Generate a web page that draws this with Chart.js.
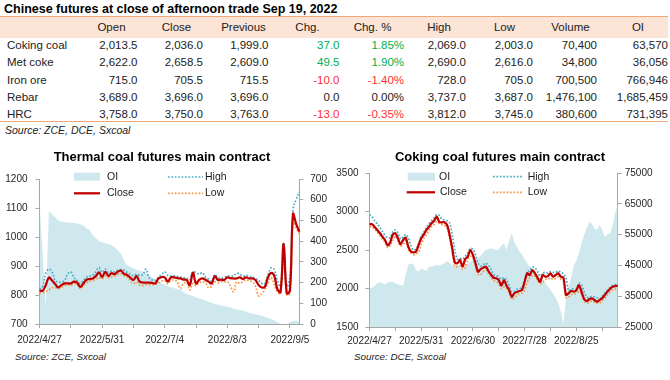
<!DOCTYPE html>
<html><head><meta charset="utf-8">
<script src="https://cdn.jsdelivr.net/npm/chart.js@4.4.0/dist/chart.umd.min.js"></script>
<style>
html,body{margin:0;padding:0;background:#fff;}
#wrap{position:relative;width:670px;height:380px;overflow:hidden;background:#fff;font-family:'Liberation Sans',Arial,sans-serif;color:#222;}
.t{position:absolute;white-space:nowrap;line-height:14px;height:14px;font-size:11.5px;}
canvas{position:absolute;}
</style></head>
<body>
<div id="wrap">
  <div id="band" style="position:absolute;left:0;top:16px;width:668px;height:21px;background:#FCE4D6;border-top:1.5px solid #F2A778;"></div>
  <div style="position:absolute;left:0;top:120.5px;width:668px;height:0;border-top:1.2px solid #F2A778;"></div>
  <div class="t" style="left:4px;top:2px;font-weight:bold;font-size:12.5px;color:#000;">Chinese futures at close of afternoon trade Sep 19, 2022</div>
  <div class="t" style="left:5px;top:123px;font-style:italic;font-size:10.5px;">Source: ZCE, DCE, Sxcoal</div>
  <canvas id="c1" width="335" height="210" style="left:0;top:140px;"></canvas>
  <canvas id="c2" width="335" height="210" style="left:335px;top:140px;"></canvas>
  <div class="t" style="left:42px;width:240px;text-align:center;top:150px;font-weight:bold;font-size:13px;color:#000;">Thermal coal futures main contract</div>
  <div class="t" style="left:380px;width:240px;text-align:center;top:150px;font-weight:bold;font-size:13px;color:#000;">Coking coal futures main contract</div>
  <div class="t" style="left:15px;top:350px;font-style:italic;font-size:9.8px;">Source: ZCE, Sxcoal</div>
  <div class="t" style="left:354px;top:350px;font-style:italic;font-size:9.8px;">Source: DCE, Sxcoal</div>
</div>
<script>
// ---------- table data ----------
const tblHeaders = ["Open","Close","Previous","Chg.","Chg. %","High","Low","Volume","OI"];
const tblNames = ["Coking coal","Met coke","Iron ore","Rebar","HRC"];
const tblOpen = [2013.5, 2622.0, 715.0, 3689.0, 3758.0];
const tblClose = [2036.0, 2658.5, 705.5, 3696.0, 3750.0];
const tblPrev = [1999.0, 2609.0, 715.5, 3696.0, 3763.0];
const tblChg = [37.0, 49.5, -10.0, 0.0, -13.0];
const tblChgPct = [1.85, 1.90, -1.40, 0.00, -0.35];
const tblHigh = [2069.0, 2690.0, 728.0, 3737.0, 3812.0];
const tblLow = [2003.0, 2616.0, 705.0, 3687.0, 3745.0];
const tblVolume = [70400, 34800, 700500, 1476100, 380600];
const tblOI = [63570, 36056, 766946, 1685459, 731395];

// ---------- thermal coal chart data ----------
const thermalDates = ["2022/4/27","2022/4/28","2022/4/29","2022/5/5","2022/5/6","2022/5/9","2022/5/10","2022/5/11","2022/5/12","2022/5/13",
"2022/5/16","2022/5/17","2022/5/18","2022/5/19","2022/5/20","2022/5/23","2022/5/24","2022/5/25","2022/5/26","2022/5/27",
"2022/5/31","2022/6/1","2022/6/2","2022/6/6","2022/6/8","2022/6/9","2022/6/10","2022/6/13","2022/6/15","2022/6/16",
"2022/6/17","2022/6/20","2022/6/22","2022/6/23","2022/6/24","2022/6/27","2022/6/28","2022/6/29","2022/6/30","2022/7/1",
"2022/7/4","2022/7/5","2022/7/6","2022/7/7","2022/7/8","2022/7/11","2022/7/12","2022/7/13","2022/7/14","2022/7/15",
"2022/7/18","2022/7/19","2022/7/20","2022/7/21","2022/7/22","2022/7/25","2022/7/26","2022/7/27","2022/7/28","2022/7/29",
"2022/8/3","2022/8/4","2022/8/5","2022/8/8","2022/8/9","2022/8/10","2022/8/11","2022/8/12","2022/8/15","2022/8/16",
"2022/8/17","2022/8/18","2022/8/19","2022/8/22","2022/8/23","2022/8/24","2022/8/25","2022/8/26","2022/8/29","2022/8/30",
"2022/9/5","2022/9/6","2022/9/7","2022/9/8"];
const thermalClose = [815,815,834,860,850,838,826,834,840,840,
840,846,843,828,840,852,855,857,865,878,
862,880,866,875,872,880,884,873,869,860,
852,865,846,843,843,843,842,840,857,862,
861,846,861,861,858,857,853,852,834,877,
840,852,857,853,846,840,865,852,853,852,
861,858,857,857,861,855,861,857,857,852,
834,826,828,861,876,866,820,810,976,806,
815,1079,1045,1018];
const thermalHigh = [820,830,875,889,880,850,845,845,850,872,
880,860,850,840,850,862,865,868,880,895,
878,889,878,882,880,885,888,886,878,872,
866,872,868,870,889,860,852,850,862,870,
880,868,866,866,864,862,860,858,852,880,
878,872,877,862,855,848,870,860,858,860,
866,865,866,875,872,865,868,864,862,858,
850,840,838,870,894,888,850,830,980,830,
860,1095,1130,1156];
const thermalLow = [806,808,812,818,825,825,822,826,832,835,
832,838,836,822,832,842,846,850,855,860,
855,865,860,862,865,870,874,866,862,848,
840,845,834,832,836,835,836,836,842,848,
850,838,850,852,845,822,840,842,817,840,
832,842,846,842,825,830,845,842,846,845,
846,830,811,845,840,846,852,848,846,830,
797,805,818,840,860,835,811,805,940,800,
806,1050,1030,1012];
const thermalOI = [590,340,80,545,530,515,500,495,492,490,
489,487,485,482,475,462,454,430,415,400,
395,390,386,380,371,355,340,305,285,275,
268,263,258,252,245,235,225,215,205,198,
190,182,178,172,169,165,155,145,140,135,
128,124,118,112,108,102,96,93,90,86,
84,80,75,70,68,64,60,53,50,47,
43,40,35,29,24,18,8,0,0,0,
8,16,16,10];

// ---------- coking coal chart data ----------
const cokingDates = ["2022/4/27","2022/4/28","2022/4/29","2022/5/5","2022/5/6","2022/5/9","2022/5/10","2022/5/11","2022/5/12","2022/5/13",
"2022/5/16","2022/5/17","2022/5/18","2022/5/19","2022/5/20","2022/5/23","2022/5/24","2022/5/25","2022/5/26","2022/5/27",
"2022/5/31","2022/6/1","2022/6/2","2022/6/6","2022/6/7","2022/6/8","2022/6/9","2022/6/10","2022/6/13","2022/6/14",
"2022/6/15","2022/6/16","2022/6/17","2022/6/20","2022/6/21","2022/6/22","2022/6/23","2022/6/24","2022/6/27","2022/6/28",
"2022/6/30","2022/7/1","2022/7/4","2022/7/5","2022/7/6","2022/7/7","2022/7/8","2022/7/11","2022/7/12","2022/7/13",
"2022/7/14","2022/7/15","2022/7/18","2022/7/19","2022/7/20","2022/7/21","2022/7/22","2022/7/25","2022/7/26","2022/7/27",
"2022/7/28","2022/7/29","2022/8/1","2022/8/2","2022/8/3","2022/8/4","2022/8/5","2022/8/8","2022/8/9","2022/8/10",
"2022/8/11","2022/8/12","2022/8/15","2022/8/16","2022/8/17","2022/8/18","2022/8/19","2022/8/22","2022/8/23","2022/8/24",
"2022/8/25","2022/8/26","2022/8/29","2022/8/30","2022/8/31","2022/9/1","2022/9/2","2022/9/5","2022/9/6","2022/9/7",
"2022/9/8","2022/9/9","2022/9/13","2022/9/14","2022/9/15","2022/9/16","2022/9/19"];
const cokingClose = [2834,2834,2800,2760,2720,2673,2630,2560,2600,2700,
2717,2652,2574,2630,2660,2543,2480,2470,2480,2565,
2652,2700,2760,2800,2847,2880,2933,2865,2860,2860,
2825,2695,2522,2340,2327,2370,2283,2380,2413,2500,
2435,2327,2218,2253,2270,2283,2227,2180,2140,2132,
2110,2036,2110,2036,1981,1894,1938,1955,1968,1981,
2088,2197,2175,2240,2197,2140,2088,2175,2153,2160,
2197,2153,2175,2197,2153,2140,1916,1938,1968,1960,
1975,2045,1960,1864,1838,1860,1873,1851,1829,1850,
1873,1916,1959,1994,2024,2030,2036];
const cokingHigh = [2960,2930,2880,2840,2790,2740,2690,2660,2660,2740,
2760,2720,2640,2670,2700,2660,2560,2500,2510,2580,
2680,2730,2790,2840,2880,2920,2960,2950,2900,2890,
2880,2850,2700,2500,2380,2390,2380,2420,2460,2520,
2510,2440,2330,2290,2310,2330,2300,2250,2180,2170,
2150,2120,2140,2110,2040,1960,1960,1990,2000,2010,
2110,2220,2230,2280,2270,2220,2160,2200,2210,2200,
2220,2210,2210,2230,2210,2190,2140,1970,1990,2000,
2000,2070,2050,1960,1890,1880,1900,1890,1880,1870,
1900,1940,1980,2010,2040,2050,2069];
const cokingLow = [2800,2800,2770,2730,2690,2640,2600,2530,2560,2620,
2680,2620,2550,2570,2620,2510,2460,2440,2450,2470,
2570,2650,2700,2750,2800,2830,2870,2840,2830,2820,
2790,2660,2480,2290,2280,2290,2250,2270,2370,2420,
2400,2290,2180,2180,2220,2240,2190,2140,2100,2090,
2060,2000,2020,2000,1950,1860,1880,1910,1930,1940,
1980,2080,2140,2170,2160,2110,2060,2080,2120,2120,
2140,2120,2130,2150,2120,2100,1880,1890,1920,1930,
1940,1960,1930,1840,1810,1820,1840,1820,1810,1810,
1840,1870,1910,1950,1980,1990,2003];
const cokingOI = [37800,37700,38400,39200,39500,39300,38900,39500,39600,39700,
39200,38900,38600,38400,41900,45100,45700,45400,43500,43000,
44000,43600,43200,44600,44600,44900,45100,45000,45300,45700,
46400,45800,45100,45000,45200,44500,43500,45000,45700,46200,
46800,47000,47300,48200,49300,50000,50300,50500,50300,50000,
50200,51500,52200,50000,53000,55400,52500,51000,49500,48500,
47000,45800,44600,43500,42600,41600,41000,40200,39200,38200,
37000,35900,34500,32700,30000,26000,34000,38000,41000,45000,
46500,49000,52000,54800,57000,59200,58500,57000,56500,58100,
56500,54300,55000,55400,57800,62000,64500];

// ---------- build table ----------
const wrap = document.getElementById('wrap');
const colRight = [137.5, 203, 268.5, 339.5, 404, 466, 533, 597, 668];
const colHead = [111.5, 176.5, 243.5, 307.5, 372.5, 439, 504.5, 570.5, 638];
const rowY = [45, 62.2, 79.5, 96.8, 114];
const headY = 27;
function place(text, st){ const d=document.createElement('div'); d.className='t'; d.textContent=text; Object.assign(d.style, st); wrap.appendChild(d); return d; }
tblHeaders.forEach((h,j)=>place(h,{left:(colHead[j]-40)+'px',width:'80px',textAlign:'center',top:(headY-7)+'px'}));
const f1 = v => v.toLocaleString('en-US',{minimumFractionDigits:1,maximumFractionDigits:1});
const f0 = v => v.toLocaleString('en-US',{maximumFractionDigits:0});
const sgnColor = v => v>0 ? '#00B050' : (v<0 ? '#FF3030' : '#222');
tblNames.forEach((n,i)=>{
  const y=(rowY[i]-7)+'px';
  place(n,{left:'7px',top:y});
  const cells=[
    [f1(tblOpen[i]),'#222'],[f1(tblClose[i]),'#222'],[f1(tblPrev[i]),'#222'],
    [tblChg[i].toFixed(1),sgnColor(tblChg[i])],[tblChgPct[i].toFixed(2)+'%',sgnColor(tblChgPct[i])],
    [f1(tblHigh[i]),'#222'],[f1(tblLow[i]),'#222'],[f0(tblVolume[i]),'#222'],[f0(tblOI[i]),'#222']];
  cells.forEach((c,j)=>place(c[0],{right:(670-colRight[j])+'px',top:y,color:c[1]}));
});

// ---------- charts ----------
Chart.defaults.font.family = "'Liberation Sans', Arial, sans-serif";
const AX = '#A6A6A6', TX = '#262626';
const CLOSE_C = '#C00000', HIGH_C = '#4BACC6', LOW_C = '#F79646', OI_C = '#CFE8EE';

const insideLegend = {
  id:'insideLegend',
  afterDraw(chart, args, opts){
    const ctx = chart.ctx;
    ctx.save();
    ctx.font = opts.font;
    ctx.textBaseline = 'middle';
    opts.items.forEach(it=>{
      const ds = chart.data.datasets.find(d=>d.label===it.label);
      if (ds.fill) {
        ctx.fillStyle = ds.backgroundColor;
        ctx.fillRect(it.x1, it.y-4, it.x2-it.x1, 8);
      } else {
        ctx.strokeStyle = ds.borderColor;
        ctx.lineWidth = ds.borderWidth;
        ctx.setLineDash(ds.borderDash || []);
        ctx.beginPath(); ctx.moveTo(it.x1, it.y); ctx.lineTo(it.x2, it.y); ctx.stroke();
        ctx.setLineDash([]);
      }
      ctx.fillStyle = '#1a1a1a';
      ctx.fillText(ds.label, it.tx, it.y);
    });
    ctx.restore();
  }
};

function xScale(h, pad){
  return {type:'category', offset:false,
    grid:{drawOnChartArea:false, tickLength:4, tickColor:(c)=> (c.index%10===0 ? AX : 'rgba(0,0,0,0)')},
    border:{color:AX},
    ticks:{autoSkip:false, maxRotation:0, minRotation:0, padding:pad, color:TX, font:{size:10},
      callback:function(v,i){ return i%20===0 ? this.getLabelForValue(v) : ''; }},
    afterFit:s=>{ s.height=h; }};
}
function yScale(pos, min, max, step, w, pad){
  return {position:pos, min:min, max:max,
    ticks:{stepSize:step, padding:pad, color:TX, font:{size:10}, callback:v=>String(v)},
    grid:{drawOnChartArea:false, tickLength:4, color:AX},
    border:{color:AX},
    afterFit:s=>{ s.width=w; }};
}
function datasets(close, high, low, oi, tens){
  return [
    {label:'Close', data:close, yAxisID:'y', borderColor:CLOSE_C, borderWidth:2.25, pointRadius:0, tension:tens, fill:false, order:0},
    {label:'High', data:high, yAxisID:'y', borderColor:HIGH_C, borderWidth:1.7, borderDash:[1.7,1.7], pointRadius:0, tension:tens, fill:false, order:1},
    {label:'Low', data:low, yAxisID:'y', borderColor:LOW_C, borderWidth:1.7, borderDash:[1.7,1.7], pointRadius:0, tension:tens, fill:false, order:2},
    {label:'OI', data:oi, yAxisID:'y1', backgroundColor:OI_C, borderColor:'rgba(0,0,0,0)', borderWidth:0, pointRadius:0, tension:0, fill:'start', order:3}
  ];
}

new Chart(document.getElementById('c1'), {
  type:'line',
  data:{labels:thermalDates, datasets:datasets(thermalClose, thermalHigh, thermalLow, thermalOI, 0.4)},
  options:{responsive:false, animation:false,
    layout:{padding:{top:39,left:0,right:0,bottom:0}},
    plugins:{legend:{display:false}, tooltip:{enabled:false},
      insideLegend:{font:"10.5px 'Liberation Sans', Arial, sans-serif", items:[
        {label:'OI', x1:74, x2:100, y:36.7, tx:107},
        {label:'High', x1:168, x2:203, y:37, tx:205},
        {label:'Close', x1:74, x2:100, y:53.3, tx:107},
        {label:'Low', x1:168, x2:203, y:53.3, tx:205}]}},
    scales:{
      x:xScale(26, 6),
      y:yScale('left', 700, 1200, 100, 39.5, 8),
      y1:yScale('right', 0, 700, 100, 35.7, 7)
    }},
  plugins:[insideLegend]
});

new Chart(document.getElementById('c2'), {
  type:'line',
  data:{labels:cokingDates, datasets:datasets(cokingClose, cokingHigh, cokingLow, cokingOI, 0.3)},
  options:{responsive:false, animation:false,
    layout:{padding:{top:33,left:0,right:0,bottom:0}},
    plugins:{legend:{display:false}, tooltip:{enabled:false},
      insideLegend:{font:"10.5px 'Liberation Sans', Arial, sans-serif", items:[
        {label:'OI', x1:72.7, x2:100, y:36.7, tx:104},
        {label:'High', x1:158, x2:188.3, y:36.7, tx:192.7},
        {label:'Close', x1:71.7, x2:100, y:52.3, tx:105},
        {label:'Low', x1:158, x2:188.3, y:52.3, tx:192.7}]}},
    scales:{
      x:xScale(23, 4.7),
      y:yScale('left', 1500, 3500, 500, 34.5, 7),
      y1:yScale('right', 25000, 75000, 10000, 52.3, 3)
    }},
  plugins:[insideLegend]
});
</script>
</body></html>
